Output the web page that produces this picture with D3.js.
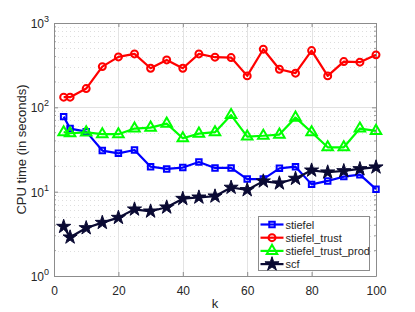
<!DOCTYPE html>
<html>
<head>
<meta charset="utf-8">
<script src="https://cdn.jsdelivr.net/npm/d3@7"></script>
<style>
  body { margin: 0; background: #fff; }
  text { font-family: "Liberation Sans", Arial, sans-serif; fill: #262626; }
</style>
</head>
<body>
<div id="chart"></div>
<script>
// k values shared by every series
const kValues = [3, 5, 10, 15, 20, 25, 30, 35, 40, 45, 50, 55, 60, 65, 70, 75, 80, 85, 90, 95, 100];

// CPU times (seconds)
const stiefel = [77.6, 56, 51.5, 30.7, 28.5, 31.2, 19.8, 18.6, 19.3, 22.5, 19.1, 19.1, 14.1, 14.1, 18.9, 19.8, 12.2, 13.4, 15.1, 15.9, 10.7];
const stiefelTrust = [132, 132, 167, 304, 396, 430, 291, 365, 291, 430, 393, 389, 236, 489, 283, 254, 471, 236, 349, 343, 419];
const stiefelTrustProd = [50.7, 49.3, 50.5, 48, 48, 56, 57.5, 64, 43, 48.8, 50.7, 81, 45, 46, 47.5, 75.5, 50.7, 33.6, 33.6, 56, 52.5];
const scf = [3.85, 2.88, 3.71, 4.29, 4.92, 6.18, 5.85, 6.53, 8.26, 8.57, 8.82, 11.2, 10.5, 13.3, 12.6, 14.3, 17.9, 17.0, 17.6, 18.6, 19.5];

const seriesNames = ['stiefel', 'stiefel_trust', 'stiefel_trust_prod', 'scf'];
const xTicks = [0, 20, 40, 60, 80, 100];
const yTicks = [1, 10, 100, 1000];

const width = 415, height = 312;
const margin = {top: 23, right: 39, bottom: 36, left: 54};
const w = width - margin.left - margin.right;
const h = height - margin.top - margin.bottom;

const series = [
  {name: seriesNames[0], values: stiefel, color: '#0000ff', marker: 'square'},
  {name: seriesNames[1], values: stiefelTrust, color: '#ff0000', marker: 'circle'},
  {name: seriesNames[2], values: stiefelTrustProd, color: '#00ff00', marker: 'triangle'},
  {name: seriesNames[3], values: scf, color: '#0a0a33', marker: 'star'}
];

const svg = d3.select('#chart').append('svg')
  .attr('width', width)
  .attr('height', height);

const g = svg.append('g').attr('transform', `translate(${margin.left},${margin.top})`);

const x = d3.scaleLinear().domain([0, 100]).range([0, w]);
const y = d3.scaleLog().domain([1, 1000]).range([h, 0]);

// minor grid (dotted)
const minor = [];
for (let d = 1; d < 1000; d *= 10) {
  for (let m = 2; m <= 9; m++) minor.push(d * m);
}
g.selectAll('.minor').data(minor).enter().append('line')
  .attr('x1', 0).attr('x2', w)
  .attr('y1', d => Math.round(y(d)) + 0.5).attr('y2', d => Math.round(y(d)) + 0.5)
  .attr('stroke', '#c8c8c8').attr('stroke-width', 0.6)
  .attr('stroke-dasharray', '1,3');

// major grid
g.selectAll('.gy').data(yTicks.slice(1, -1)).enter().append('line')
  .attr('x1', 0).attr('x2', w)
  .attr('y1', d => Math.round(y(d)) + 0.5).attr('y2', d => Math.round(y(d)) + 0.5)
  .attr('stroke', '#e3e3e3').attr('stroke-width', 1);
g.selectAll('.gx').data(xTicks.slice(1, -1)).enter().append('line')
  .attr('y1', 0).attr('y2', h)
  .attr('x1', d => Math.round(x(d)) + 0.5).attr('x2', d => Math.round(x(d)) + 0.5)
  .attr('stroke', '#e3e3e3').attr('stroke-width', 1);

// axes with inward ticks
const axisColor = '#8c8c8c';
const xAxis = g.append('g').attr('transform', `translate(0,${h})`)
  .call(d3.axisBottom(x).tickValues(xTicks).tickSizeInner(-4).tickSizeOuter(0).tickPadding(10));
const xAxisTop = g.append('g')
  .call(d3.axisTop(x).tickValues(xTicks).tickSizeInner(-4).tickSizeOuter(0).tickFormat(''));
const yAxis = g.append('g')
  .call(d3.axisLeft(y).tickValues(yTicks).tickSizeInner(-4).tickSizeOuter(0).tickPadding(5).tickFormat(''));
const yAxisRight = g.append('g').attr('transform', `translate(${w},0)`)
  .call(d3.axisRight(y).tickValues(yTicks).tickSizeInner(-4).tickSizeOuter(0).tickFormat(''));

[xAxis, xAxisTop, yAxis, yAxisRight].forEach(a => {
  a.select('.domain').attr('stroke', axisColor);
  a.selectAll('.tick line').attr('stroke', axisColor);
});
xAxis.selectAll('.tick text').attr('font-size', 12).attr('fill', '#262626')
  .attr('font-family', '"Liberation Sans", Arial, sans-serif');

// minor y ticks, left and right
[[0, 2], [w, -2]].forEach(([x0, len]) => {
  g.selectAll(null).data(minor).enter().append('line')
    .attr('x1', x0).attr('x2', x0 + len)
    .attr('y1', d => y(d)).attr('y2', d => y(d))
    .attr('stroke', axisColor).attr('stroke-width', 0.8);
});

// y tick labels as 10^n
const yl = g.selectAll('.ylab').data(yTicks).enter().append('text')
  .attr('x', -5).attr('y', d => y(d) + 5)
  .attr('text-anchor', 'end')
  .attr('font-size', 12);
yl.append('tspan').text('10');
yl.append('tspan').attr('dy', -6).attr('font-size', 9).text(d => Math.round(Math.log10(d)));

// axis titles
svg.append('text')
  .attr('x', margin.left + w / 2).attr('y', 308)
  .attr('text-anchor', 'middle').attr('font-size', 13).text('k');
svg.append('text')
  .attr('transform', `translate(26,${margin.top + h / 2}) rotate(-90)`)
  .attr('text-anchor', 'middle').attr('font-size', 13).text('CPU time (in seconds)');

// markers
const symbolFor = {
  square: d3.symbol().type(d3.symbolSquare).size(30),
  circle: d3.symbol().type(d3.symbolCircle).size(38),
  triangle: d3.symbol().type(d3.symbolTriangle).size(48),
  star: d3.symbol().type(d3.symbolStar).size(62)
};

const line = d3.line().x(d => x(d[0])).y(d => y(d[1]));

series.forEach(s => {
  const pts = kValues.map((k, i) => [k, s.values[i]]);
  const sg = g.append('g');
  sg.append('path').datum(pts)
    .attr('d', line)
    .attr('fill', 'none')
    .attr('stroke', s.color)
    .attr('stroke-width', 2.2)
    .attr('stroke-linejoin', 'round');
  sg.selectAll('path.m').data(pts).enter().append('path')
    .attr('class', 'm')
    .attr('transform', d => `translate(${x(d[0])},${y(d[1])})`)
    .attr('d', symbolFor[s.marker])
    .attr('fill', s.marker === 'star' ? s.color : 'none')
    .attr('stroke', s.color)
    .attr('stroke-width', s.marker === 'star' ? 1 : 2);
});

// legend
const lg = svg.append('g').attr('transform', 'translate(258.5,216.5)');
lg.append('rect').attr('width', 111).attr('height', 54)
  .attr('fill', '#fff').attr('stroke', axisColor).attr('stroke-width', 1);
series.forEach((s, i) => {
  const yy = 8 + i * 13.2;
  lg.append('line').attr('x1', 2).attr('x2', 25).attr('y1', yy).attr('y2', yy)
    .attr('stroke', s.color).attr('stroke-width', 2.2);
  lg.append('path').attr('transform', `translate(13.5,${yy})`)
    .attr('d', symbolFor[s.marker])
    .attr('fill', s.marker === 'star' ? s.color : 'none')
    .attr('stroke', s.color)
    .attr('stroke-width', s.marker === 'star' ? 1 : 2);
  lg.append('text').attr('x', 27).attr('y', yy + 4).attr('font-size', 11).text(s.name);
});
</script>
</body>
</html>
